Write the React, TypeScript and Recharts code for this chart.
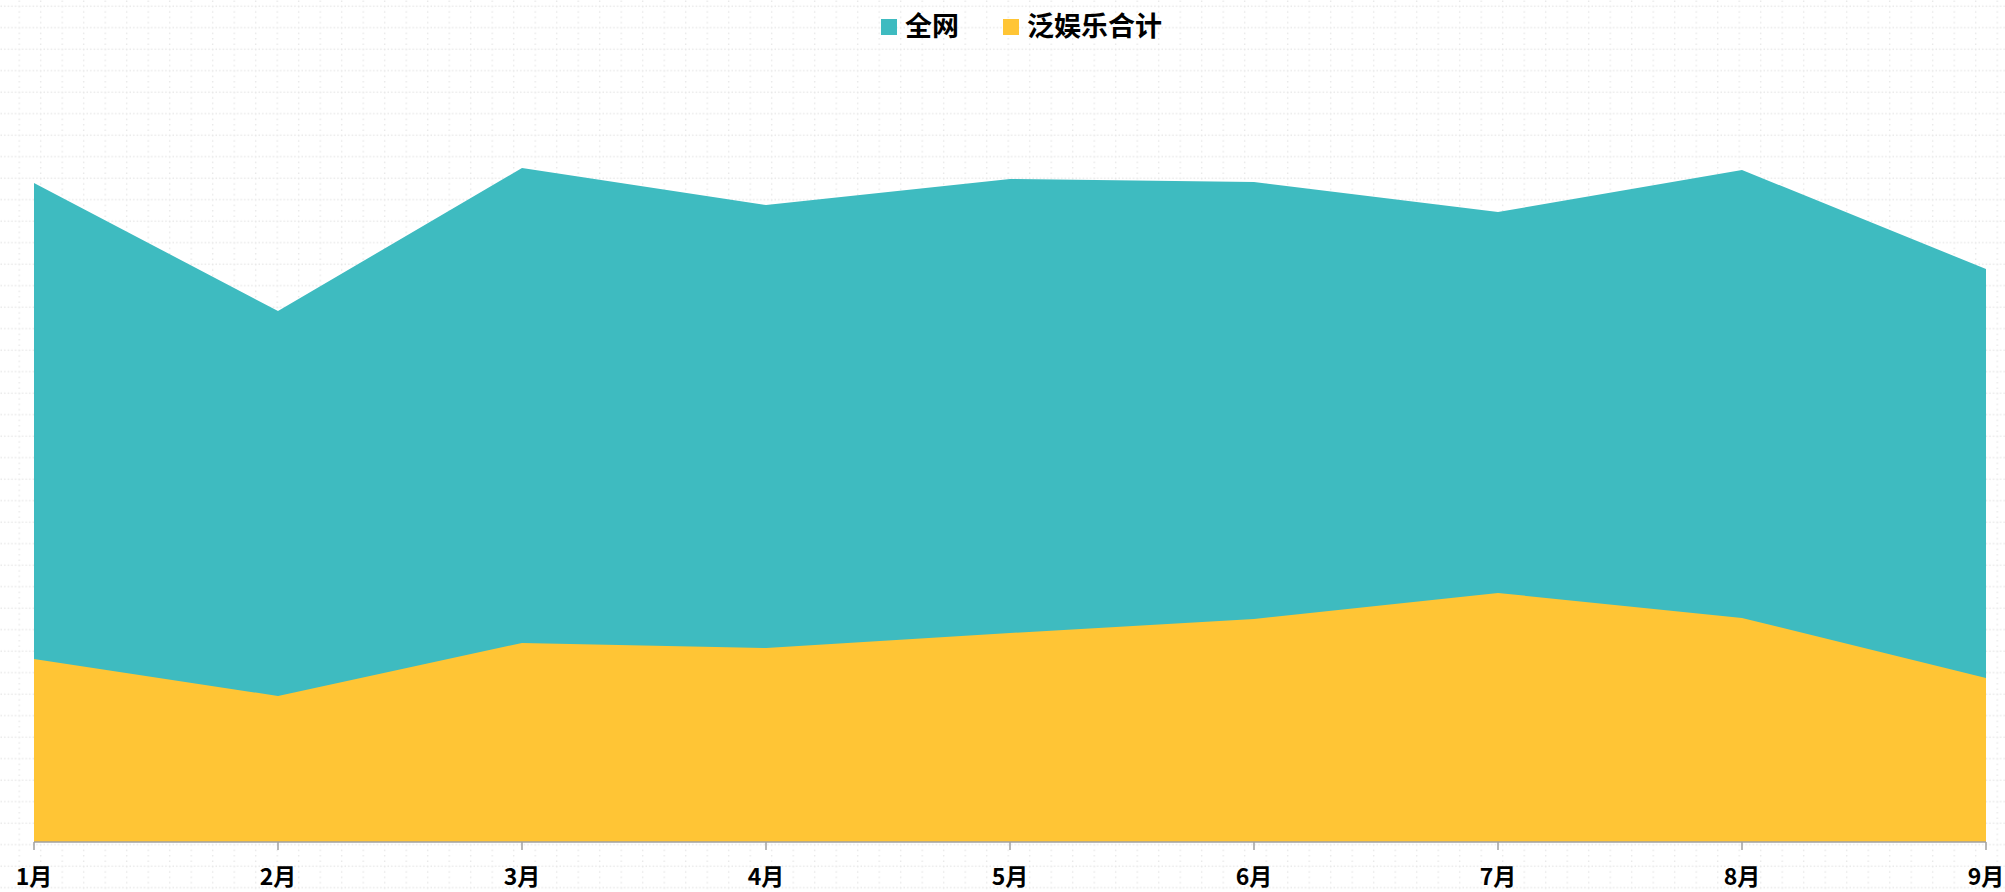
import React from "react";
import { AreaChart, Area, XAxis, YAxis } from "recharts";

const months = ["1月", "2月", "3月", "4月", "5月", "6月", "7月", "8月", "9月"];
const quanwang = [659, 531, 674, 637, 663, 660, 630, 672, 573];
const fanyule = [183, 146, 199, 194, 209, 223, 249, 224, 164];

const seriesNames = ["全网", "泛娱乐合计"];
const COLORS = ["#3EBBC0", "#FFC535"];

const data = months.map((m, i) => ({
  month: m,
  quanwang: quanwang[i],
  fanyule: fanyule[i],
}));

const FONT = '"Noto Sans CJK SC", "Noto Sans", sans-serif';

// custom tick so the bold labels sit right under the tick marks
function MonthTick(props: any) {
  const { x, payload } = props;
  return (
    <text
      x={x}
      y={885}
      textAnchor="middle"
      fontFamily={FONT}
      fontWeight={700}
      fontSize={23}
      fill="#000"
    >
      {payload.value}
    </text>
  );
}

// light dotted grid behind the whole picture
function DottedBackground() {
  return (
    <svg width={2005} height={892} style={{ position: "absolute", left: 0, top: 0 }}>
      <defs>
        <pattern id="dots" x={0} y={0} width={21.5} height={21.5} patternUnits="userSpaceOnUse">
          {[0, 1, 2, 3, 4, 5].map((k) => (
            <rect key={"h" + k} x={k * 3.58 + 0.5} y={5.5} width={1.4} height={1.4} fill="#e6e6e6" />
          ))}
          {[0, 1, 2, 3].map((k) => (
            <rect key={"v" + k} x={18.5} y={k * 5.37 + 0.5} width={1.4} height={1.4} fill="#e6e6e6" />
          ))}
        </pattern>
      </defs>
      <rect x={0} y={0} width={2005} height={892} fill="url(#dots)" />
    </svg>
  );
}

export default function App() {
  return (
    <div style={{ position: "relative", width: 2005, height: 892, background: "#fff" }}>
      <style>{"body{margin:0}"}</style>
      <DottedBackground />
      <div style={{ position: "absolute", left: 0, top: 0 }}>
        <AreaChart
          width={2005}
          height={892}
          data={data}
          margin={{ top: 42, right: 19, bottom: 0, left: 34 }}
        >
          <XAxis
            dataKey="month"
            height={50}
            tickSize={8}
            axisLine={{ stroke: "#a0a0a0", strokeWidth: 1.5 }}
            tickLine={{ stroke: "#a0a0a0", strokeWidth: 1.5 }}
            tick={<MonthTick />}
            interval={0}
          />
          <YAxis hide domain={[0, 800]} />
          <Area
            dataKey="quanwang"
            name={seriesNames[0]}
            type="linear"
            stroke="none"
            fill={COLORS[0]}
            fillOpacity={1}
            isAnimationActive={false}
          />
          <Area
            dataKey="fanyule"
            name={seriesNames[1]}
            type="linear"
            stroke="none"
            fill={COLORS[1]}
            fillOpacity={1}
            isAnimationActive={false}
          />
        </AreaChart>
      </div>
      <div
        style={{
          position: "absolute",
          top: 6,
          left: 881,
          display: "flex",
          fontFamily: FONT,
          fontWeight: 700,
          fontSize: 27,
          lineHeight: "38px",
          color: "#000",
        }}
      >
        {seriesNames.map((name, i) => (
          <div
            key={name}
            style={{ display: "flex", alignItems: "center", marginRight: i === 0 ? 44 : 0 }}
          >
            <span
              style={{
                display: "inline-block",
                width: 16,
                height: 16,
                background: COLORS[i],
                marginRight: 8,
                marginTop: 4,
              }}
            />
            <span>{name}</span>
          </div>
        ))}
      </div>
    </div>
  );
}
